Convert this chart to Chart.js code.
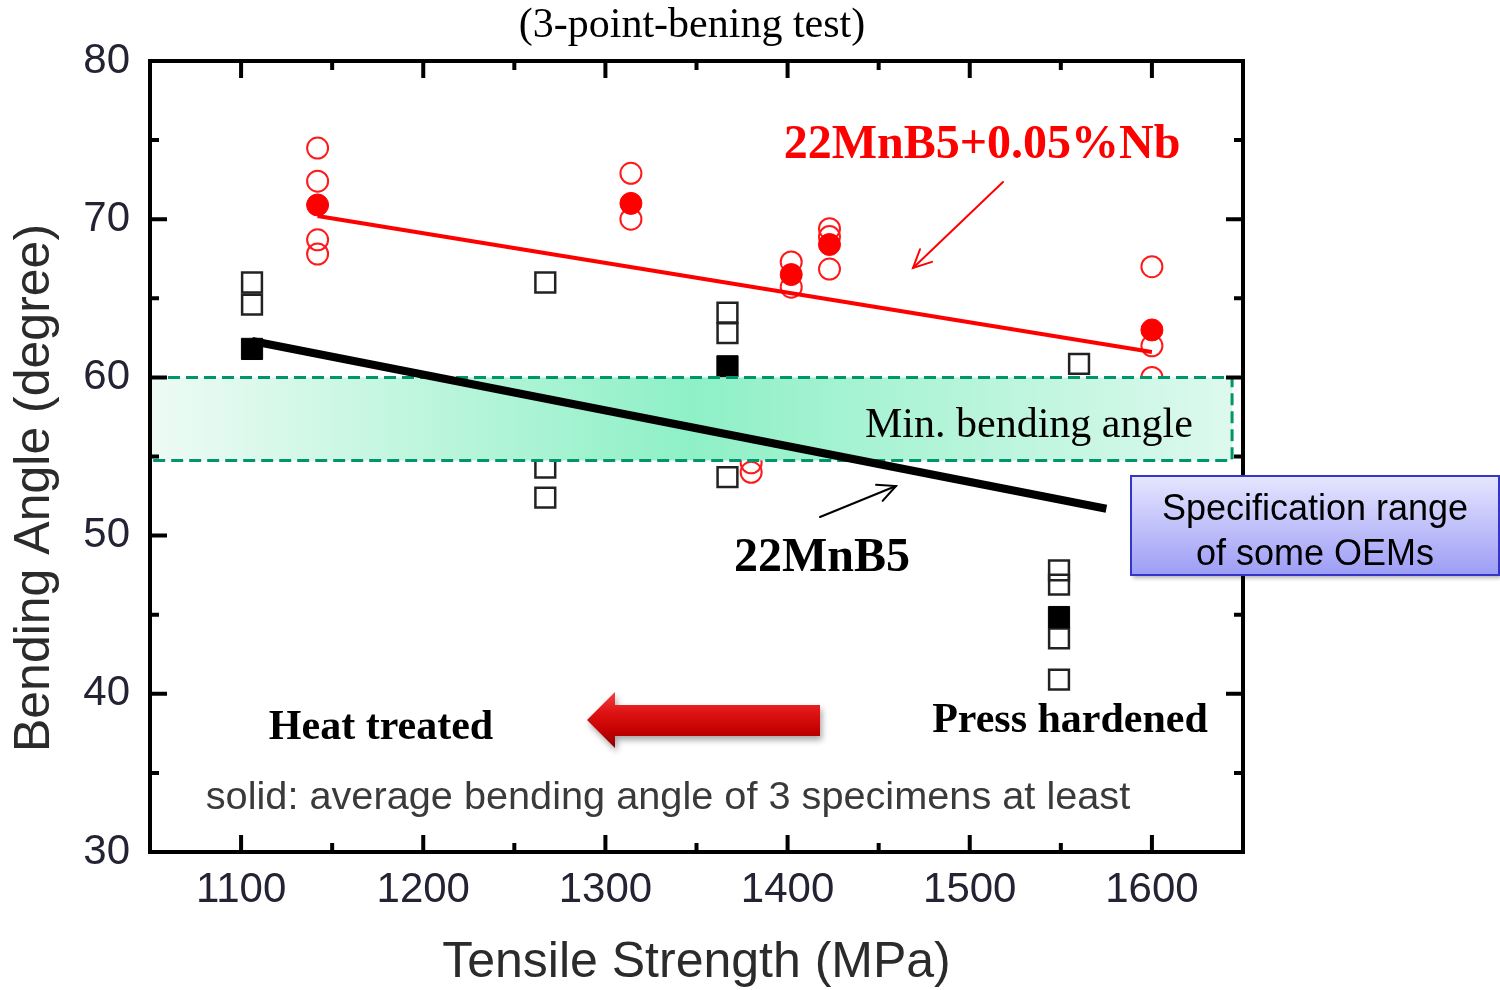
<!DOCTYPE html>
<html><head><meta charset="utf-8">
<script src="https://cdn.jsdelivr.net/npm/chart.js@4.4.1/dist/chart.umd.min.js"></script>
<style>html,body{margin:0;padding:0;background:#fff;overflow:hidden}#wrap{width:1500px;height:990px}</style>
</head><body><div id="wrap"><canvas id="c" width="1500" height="990"></canvas></div>
<script>
// ---- axes ----
const xRange = [1050, 1650];
const yRange = [30, 80];
const xTicks = [1100, 1200, 1300, 1400, 1500, 1600];
const xMinorTicks = [1150, 1250, 1350, 1450, 1550];
const yTicks = [30, 40, 50, 60, 70, 80];
const yMinorTicks = [35, 45, 55, 65, 75];

// ---- 22MnB5+0.05%Nb (red) ----
const redOpenX = [1142, 1142, 1142, 1142, 1314, 1314, 1380, 1380, 1402, 1402, 1423, 1423, 1423, 1600, 1600, 1600];
const redOpenY = [74.5, 72.4, 68.7, 67.8, 72.9, 70.0, 54.6, 54.0, 67.3, 65.7, 69.4, 68.9, 66.85, 67.0, 62.0, 60.0];
const redAvgX = [1142, 1314, 1402, 1423, 1600];
const redAvgY = [70.9, 71.0, 66.5, 68.4, 63.0];
const redFitX = [1142, 1600];
const redFitY = [70.2, 61.6];

// ---- 22MnB5 (black) ----
const blackOpenX = [1106, 1106, 1267, 1267, 1267, 1367, 1367, 1367, 1549, 1549, 1549, 1549, 1560];
const blackOpenY = [66.0, 64.6, 66.0, 54.3, 52.4, 64.1, 62.8, 53.7, 47.8, 46.9, 43.5, 40.9, 60.85];
const blackAvgX = [1106, 1367, 1549];
const blackAvgY = [61.8, 60.7, 44.85];
const blackFitX = [1106, 1575];
const blackFitY = [62.3, 51.7];

// ---- min. bending angle band ----
const bandX = [1050, 1644];
const bandY = [54.75, 60];

const pts = (xs, ys) => xs.map((x, i) => ({x: x, y: ys[i]}));

const SANS = '"Liberation Sans", Arial, sans-serif';
const SERIF = '"Liberation Serif", "Times New Roman", serif';

function arrow(ctx, x1, y1, x2, y2, color, w, head) {
  ctx.save();
  ctx.strokeStyle = color; ctx.lineWidth = w; ctx.lineCap = 'round';
  ctx.beginPath(); ctx.moveTo(x1, y1); ctx.lineTo(x2, y2); ctx.stroke();
  const a = Math.atan2(y2 - y1, x2 - x1);
  ctx.beginPath();
  ctx.moveTo(x2 - head * Math.cos(a - 0.45), y2 - head * Math.sin(a - 0.45));
  ctx.lineTo(x2, y2);
  ctx.lineTo(x2 - head * Math.cos(a + 0.45), y2 - head * Math.sin(a + 0.45));
  ctx.stroke();
  ctx.restore();
}

const deco = {
  id: 'deco',
  afterDatasetDraw(chart, args) {
    if (args.index !== 2) return;
    const ctx = chart.ctx, xs = chart.scales.x, ys = chart.scales.y;
    const x0 = xs.getPixelForValue(bandX[0]), x1 = xs.getPixelForValue(bandX[1]);
    const y0 = ys.getPixelForValue(bandY[1]), y1 = ys.getPixelForValue(bandY[0]);
    ctx.save();
    const g = ctx.createLinearGradient(x0, 0, x1, 0);
    g.addColorStop(0, '#eefbf5');
    g.addColorStop(0.5, '#8ef0c6');
    g.addColorStop(1, '#ddf9ee');
    ctx.fillStyle = g;
    ctx.fillRect(x0, y0, x1 - x0, y1 - y0);
    ctx.strokeStyle = '#00956d'; ctx.lineWidth = 3; ctx.setLineDash([12, 6]);
    ctx.strokeRect(x0, y0, x1 - x0, y1 - y0);
    ctx.setLineDash([]);
    ctx.fillStyle = '#000'; ctx.font = '42px ' + SERIF;
    ctx.textAlign = 'left'; ctx.textBaseline = 'alphabetic';
    ctx.fillText('Min. bending angle', 865, 437);
    ctx.restore();
  },
  afterDraw(chart) {
    const ctx = chart.ctx, xs = chart.scales.x, ys = chart.scales.y, ca = chart.chartArea;
    ctx.save();
    // frame
    ctx.strokeStyle = '#000'; ctx.lineWidth = 4; ctx.lineCap = 'square';
    ctx.strokeRect(ca.left, ca.top, ca.right - ca.left, ca.bottom - ca.top);
    ctx.lineCap = 'butt';
    const tick = (vals, len) => {
      vals.forEach(v => {
        const px = xs.getPixelForValue(v);
        ctx.beginPath();
        ctx.moveTo(px, ca.bottom); ctx.lineTo(px, ca.bottom - len);
        ctx.moveTo(px, ca.top); ctx.lineTo(px, ca.top + len);
        ctx.stroke();
      });
    };
    const tickY = (vals, len) => {
      vals.forEach(v => {
        const py = ys.getPixelForValue(v);
        ctx.beginPath();
        ctx.moveTo(ca.left, py); ctx.lineTo(ca.left + len, py);
        ctx.moveTo(ca.right, py); ctx.lineTo(ca.right - len, py);
        ctx.stroke();
      });
    };
    ctx.lineWidth = 4;
    tick(xTicks, 17); tick(xMinorTicks, 9);
    tickY(yTicks, 17); tickY(yMinorTicks, 9);

    // axis titles
    ctx.fillStyle = '#2b2b2b'; ctx.font = '50px ' + SANS;
    ctx.textAlign = 'center'; ctx.textBaseline = 'middle';
    ctx.fillText('Tensile Strength (MPa)', (ca.left + ca.right) / 2, 963);
    ctx.save(); ctx.translate(35, 488); ctx.rotate(-Math.PI / 2);
    ctx.fillText('Bending Angle (degree)', 0, 0); ctx.restore();

    // title
    ctx.fillStyle = '#000'; ctx.font = '42px ' + SERIF;
    ctx.fillText('(3-point-bening test)', 692, 26);

    // series labels
    ctx.font = 'bold 48px ' + SERIF;
    ctx.fillStyle = '#ff0000';
    ctx.fillText('22MnB5+0.05%Nb', 982, 146);
    ctx.fillStyle = '#000';
    ctx.fillText('22MnB5', 822, 559);
    arrow(ctx, 1003, 182, 913, 268, '#ff0000', 2, 20);
    arrow(ctx, 820, 517, 896, 486, '#000', 2, 20);

    ctx.font = 'bold 42px ' + SERIF;
    ctx.fillText('Heat treated', 381, 728);
    ctx.fillText('Press hardened', 1070, 721);

    ctx.fillStyle = '#3a3a3a'; ctx.font = '39.7px ' + SANS;
    ctx.fillText('solid: average bending angle of 3 specimens at least', 668, 798);

    // block arrow
    ctx.save();
    ctx.shadowColor = 'rgba(0,0,0,0.35)'; ctx.shadowBlur = 6; ctx.shadowOffsetX = 2; ctx.shadowOffsetY = 4;
    const ag = ctx.createLinearGradient(0, 692, 0, 748);
    ag.addColorStop(0, '#f04040'); ag.addColorStop(0.35, '#e01414');
    ag.addColorStop(0.7, '#c40000'); ag.addColorStop(1, '#8a0000');
    ctx.fillStyle = ag;
    ctx.beginPath();
    ctx.moveTo(587, 720); ctx.lineTo(615, 692); ctx.lineTo(615, 705); ctx.lineTo(820, 705);
    ctx.lineTo(820, 736); ctx.lineTo(615, 736); ctx.lineTo(615, 748); ctx.closePath();
    ctx.fill();
    ctx.restore();

    // spec box
    ctx.save();
    ctx.shadowColor = 'rgba(0,0,0,0.3)'; ctx.shadowBlur = 4; ctx.shadowOffsetX = 2; ctx.shadowOffsetY = 3;
    const bg = ctx.createLinearGradient(0, 476, 0, 575);
    bg.addColorStop(0, '#e6e6ff'); bg.addColorStop(1, '#9d9df6');
    ctx.fillStyle = bg;
    ctx.fillRect(1131, 476, 368, 99);
    ctx.restore();
    ctx.strokeStyle = '#3535c8'; ctx.lineWidth = 2;
    ctx.strokeRect(1131, 476, 368, 99);
    ctx.fillStyle = '#000'; ctx.font = '36px ' + SANS;
    ctx.fillText('Specification range', 1315, 510);
    ctx.fillText('of some OEMs', 1315, 555);
    ctx.restore();
  }
};

new Chart(document.getElementById('c').getContext('2d'), {
  type: 'scatter',
  data: {
    datasets: [
      {type: 'line', data: pts(blackFitX, blackFitY), borderColor: '#000', borderWidth: 8, pointRadius: 0, fill: false},
      {type: 'line', data: pts(redFitX, redFitY), borderColor: '#ff0000', borderWidth: 4, pointRadius: 0, fill: false},
      {data: pts(redAvgX, redAvgY), pointStyle: 'circle', pointRadius: 11, backgroundColor: '#ff0000', borderColor: '#ff0000', borderWidth: 1},
      {data: pts(blackAvgX, blackAvgY), pointStyle: 'rect', pointRadius: 15, backgroundColor: '#000', borderColor: '#000', borderWidth: 1},
      {data: pts(redOpenX, redOpenY), pointStyle: 'circle', pointRadius: 10.5, backgroundColor: 'rgba(0,0,0,0)', borderColor: '#ff1a1a', borderWidth: 2},
      {data: pts(blackOpenX, blackOpenY), pointStyle: 'rect', pointRadius: 14, backgroundColor: 'rgba(0,0,0,0)', borderColor: '#222', borderWidth: 2.5}
    ]
  },
  options: {
    responsive: false, animation: false, devicePixelRatio: 1,
    layout: {padding: {left: 0, top: 61, right: 257, bottom: 0}},
    plugins: {legend: {display: false}, tooltip: {enabled: false}},
    scales: {
      x: {
        type: 'linear', min: xRange[0], max: xRange[1],
        grid: {display: false, drawTicks: false}, border: {display: false},
        ticks: {font: {family: SANS, size: 42}, color: '#232333', padding: 13, callback: v => String(v)},
        afterBuildTicks: s => { s.ticks = xTicks.map(v => ({value: v})); },
        afterFit: s => { s.height = 138; }
      },
      y: {
        type: 'linear', min: yRange[0], max: yRange[1],
        grid: {display: false, drawTicks: false}, border: {display: false},
        ticks: {font: {family: SANS, size: 42}, color: '#232333', padding: 20, callback: v => String(v)},
        afterBuildTicks: s => { s.ticks = yTicks.map(v => ({value: v})); },
        afterFit: s => { s.width = 150; }
      }
    }
  },
  plugins: [deco]
});
</script></body></html>
